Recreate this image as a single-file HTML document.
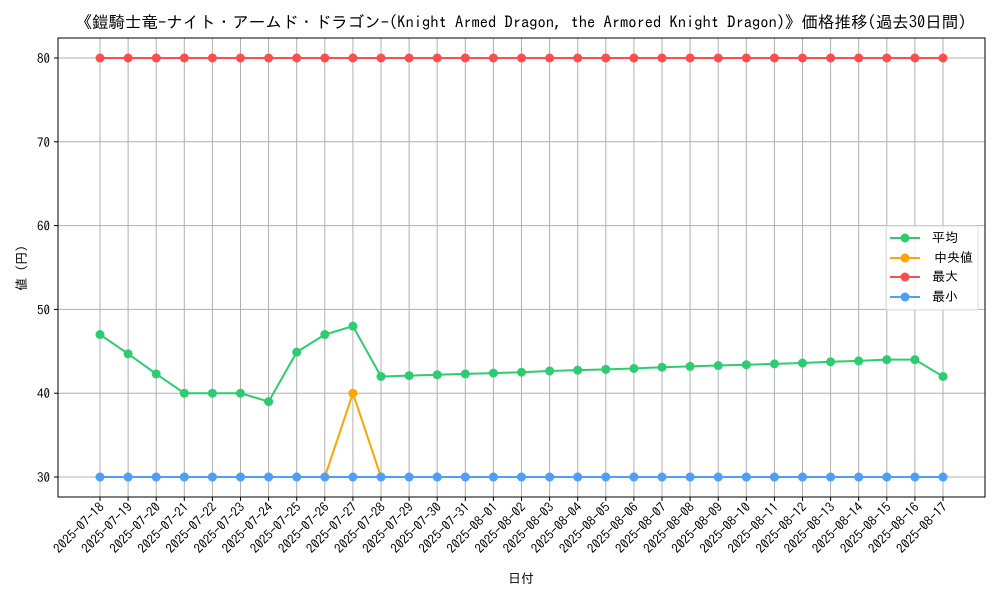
<!DOCTYPE html>
<html><head><meta charset="utf-8">
<style>
html,body{margin:0;padding:0;background:#fff;}
svg{display:block;font-family:"IPAGothic","Liberation Mono","Noto Sans CJK JP",monospace;}
</style></head>
<body>
<svg id="chart" width="1000" height="600" viewBox="0 0 1000 600"></svg>
<script>
const dates=["2025-07-18","2025-07-19","2025-07-20","2025-07-21","2025-07-22","2025-07-23","2025-07-24","2025-07-25","2025-07-26","2025-07-27","2025-07-28","2025-07-29","2025-07-30","2025-07-31","2025-08-01","2025-08-02","2025-08-03","2025-08-04","2025-08-05","2025-08-06","2025-08-07","2025-08-08","2025-08-09","2025-08-10","2025-08-11","2025-08-12","2025-08-13","2025-08-14","2025-08-15","2025-08-16","2025-08-17"];
const avgValues=[47,44.7,42.3,40,40,40,39,44.9,47,48,42,42.1,42.2,42.3,42.4,42.5,42.65,42.75,42.85,42.95,43.1,43.2,43.3,43.4,43.5,43.6,43.75,43.85,44,44,42];
const medianValues=[30,30,30,30,30,30,30,30,30,40,30,30,30,30,30,30,30,30,30,30,30,30,30,30,30,30,30,30,30,30,30];
const maxValues=[80,80,80,80,80,80,80,80,80,80,80,80,80,80,80,80,80,80,80,80,80,80,80,80,80,80,80,80,80,80,80];
const minValues=[30,30,30,30,30,30,30,30,30,30,30,30,30,30,30,30,30,30,30,30,30,30,30,30,30,30,30,30,30,30,30];
const yTicks=[30,40,50,60,70,80];

const NS="http://www.w3.org/2000/svg";
const svg=document.getElementById('chart');
const L=58,R=985,T=38,B=497;
function xs(i){return 100+i*(943-100)/(dates.length-1);}
function ys(v){return 477-(v-30)*(477-58)/50;}
function mk(tag,attrs,parent){const e=document.createElementNS(NS,tag);for(const k in attrs)e.setAttribute(k,attrs[k]);(parent||svg).appendChild(e);return e;}

const grid=mk('g',{});


dates.forEach((d,i)=>{const l=mk('line',{x1:xs(i),x2:xs(i),y1:T,y2:B,stroke:'#b0b0b0','stroke-width':1},grid);

});
yTicks.forEach(v=>{const l=mk('line',{x1:L,x2:R,y1:ys(v),y2:ys(v),stroke:'#b0b0b0','stroke-width':1},grid);

});

const series=[["median",medianValues,"#ffa500"],["average",avgValues,"#2ecc71"],["max",maxValues,"#ff4d4d"],["min",minValues,"#4d9fff"]];
series.forEach(([n,vals,c])=>{
 const g=mk('g',{});
 
 
 const p=mk('polyline',{points:vals.map((v,i)=>xs(i)+','+ys(v)).join(' '),fill:'none',stroke:c,'stroke-width':2},g);
 
 
 vals.forEach((v,i)=>{const ci=mk('circle',{cx:xs(i),cy:ys(v),r:4.5,fill:c},g);
 
 });
});

const frame=mk('rect',{x:L,y:T,width:R-L,height:B-T,fill:'none',stroke:'#000','stroke-width':1});



yTicks.forEach(v=>{mk('line',{x1:L-4,x2:L,y1:ys(v),y2:ys(v),stroke:'#000'});
 const t=mk('text',{x:L-8,y:ys(v)+5,'text-anchor':'end','font-size':13});t.textContent=v;
 
 });
dates.forEach((d,i)=>{mk('line',{x1:xs(i),x2:xs(i),y1:B,y2:B+4,stroke:'#000'});
 const t=mk('text',{x:xs(i)+5,y:B+11,'text-anchor':'end','font-size':13,transform:`rotate(-45 ${xs(i)+5} ${B+11})`});t.textContent=d;
 
 });
</script>
<svg style="position:absolute;left:0;top:0" width="1000" height="600">
<text x="521" y="28" text-anchor="middle" font-size="16.5" font-family="IPAGothic,'Noto Sans CJK JP',monospace">《鎧騎士竜-ナイト・アームド・ドラゴン-(Knight Armed Dragon, the Armored Knight Dragon)》価格推移(過去30日間)</text>
<text x="521" y="583" text-anchor="middle" font-size="13" font-family="IPAGothic,'Noto Sans CJK JP',monospace">日付</text>
<text x="0" y="0" transform="translate(26 268) rotate(-90)" text-anchor="middle" font-size="13" font-family="IPAGothic,'Noto Sans CJK JP',monospace">値 (円)</text>
<g font-size="13" font-family="IPAGothic,'Noto Sans CJK JP',monospace">
<rect x="886" y="226" width="92" height="84" fill="#fff" fill-opacity="0.8" stroke="#ddd" rx="2"/>
<g><line x1="890" x2="920" y1="238" y2="238" stroke="#2ecc71" stroke-width="2"/><circle cx="905" cy="238" r="4.5" fill="#2ecc71"/><text x="932" y="242">平均</text></g>
<g><line x1="890" x2="920" y1="258" y2="258" stroke="#ffa500" stroke-width="2"/><circle cx="905" cy="258" r="4.5" fill="#ffa500"/><text x="934" y="262">中央値</text></g>
<g><line x1="890" x2="920" y1="277" y2="277" stroke="#ff4d4d" stroke-width="2"/><circle cx="905" cy="277" r="4.5" fill="#ff4d4d"/><text x="932" y="281">最大</text></g>
<g><line x1="890" x2="920" y1="297" y2="297" stroke="#4d9fff" stroke-width="2"/><circle cx="905" cy="297" r="4.5" fill="#4d9fff"/><text x="932" y="301">最小</text></g>
</g>
</svg>
</body></html>
